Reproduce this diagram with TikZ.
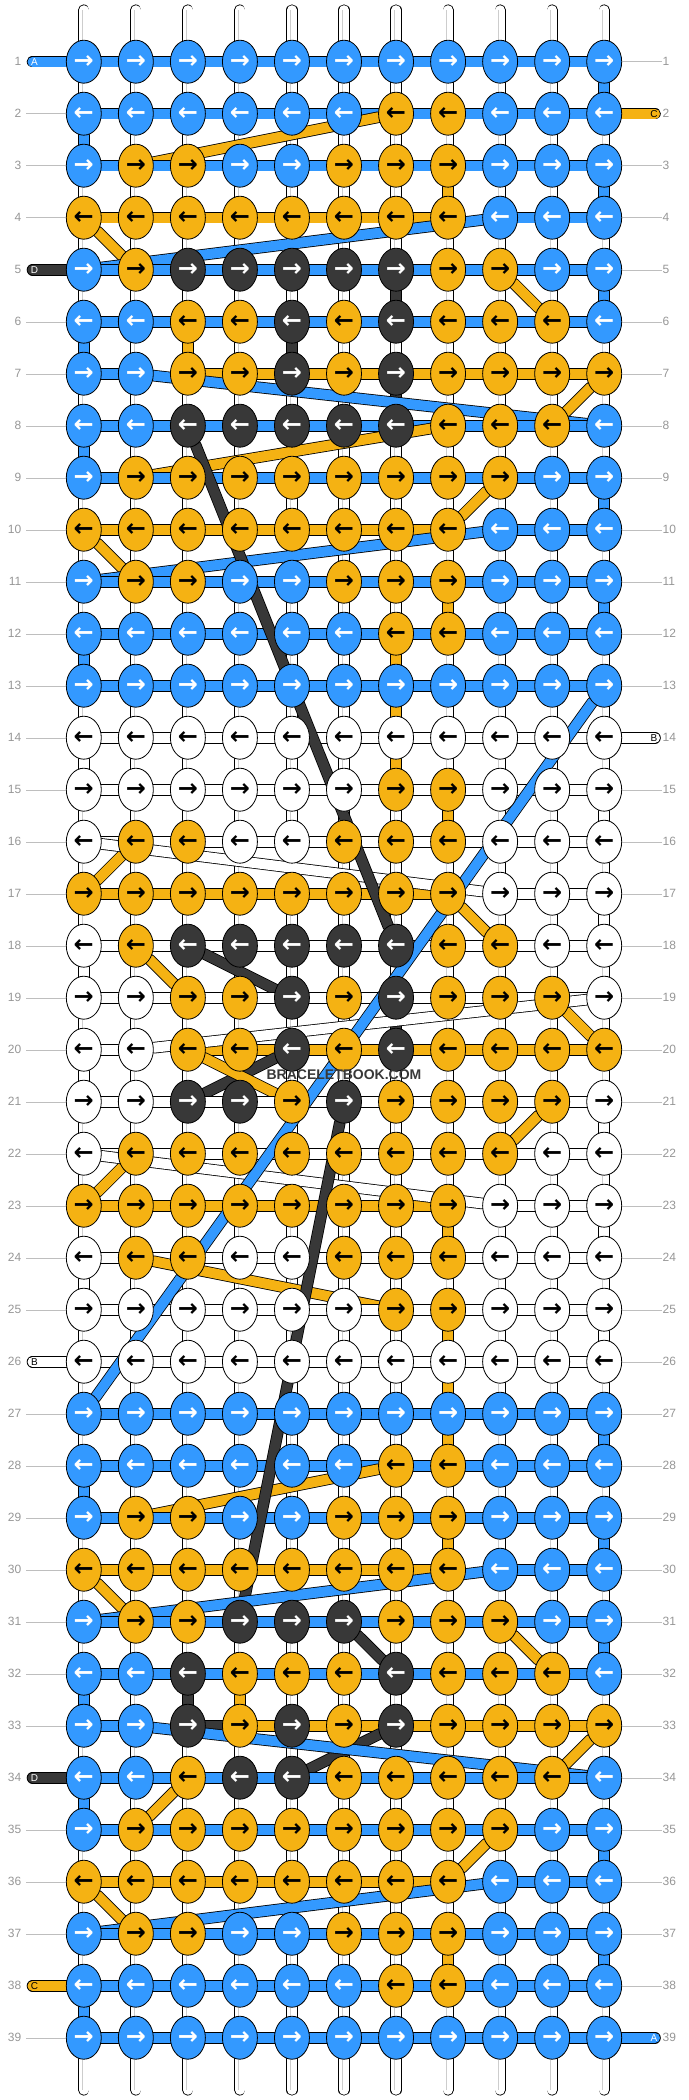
\documentclass[tikz,border=0pt]{standalone}
\usepackage{fontspec}
\setmainfont{Liberation Sans}
\newfontfamily\arrowfont{DejaVu Sans}
\usetikzlibrary{shapes.geometric}
\pgfdeclarelayer{strings}
\pgfsetlayers{strings,main}
\definecolor{colA}{RGB}{51,153,255}
\definecolor{colC}{RGB}{245,178,19}
\definecolor{colD}{RGB}{56,56,56}
\definecolor{numgray}{RGB}{150,150,150}
\definecolor{linegray}{RGB}{190,190,190}
\definecolor{warpshade}{RGB}{205,205,205}
\tikzset{
  knot/.style={ellipse, draw=black, line width=0.8pt, minimum width=35pt, minimum height=43pt,
    inner sep=0pt, font=\arrowfont\bfseries\fontsize{24}{24}\selectfont},
  kA/.style={knot, fill=colA, text=white},
  kB/.style={knot, fill=white, text=black},
  kC/.style={knot, fill=colC, text=black},
  kD/.style={knot, fill=colD, text=white},
  str/.style={draw=black, line width=0.8pt, double distance=10pt, line cap=round},
  strA/.style={str, double=colA},
  strB/.style={str, double=white},
  strC/.style={str, double=colC},
  strD/.style={str, double=colD},
  warp/.style={draw=black, line width=0.8pt, double=white, double distance=9.5pt, line cap=round},
  rownr/.style={inner sep=0pt, text=numgray, font=\fontsize{12}{12}\selectfont},
  endlab/.style={inner sep=0pt, font=\fontsize{10}{10}\selectfont},
}
% last row of each string
\def\exitA{39}\def\exitB{26}\def\exitC{38}\def\exitD{34}
\begin{document}
\begin{tikzpicture}[x=1pt, y=-1pt]
  \useasboundingbox (0,0) rectangle (688,2100);
  % knot colours, row by row
  \foreach \pat [count=\r] in {
    {A,A,A,A,A,A,A,A,A,A,A},% 1
    {A,A,A,A,A,A,C,C,A,A,A},% 2
    {A,C,C,A,A,C,C,C,A,A,A},% 3
    {C,C,C,C,C,C,C,C,A,A,A},% 4
    {A,C,D,D,D,D,D,C,C,A,A},% 5
    {A,A,C,C,D,C,D,C,C,C,A},% 6
    {A,A,C,C,D,C,D,C,C,C,C},% 7
    {A,A,D,D,D,D,D,C,C,C,A},% 8
    {A,C,C,C,C,C,C,C,C,A,A},% 9
    {C,C,C,C,C,C,C,C,A,A,A},% 10
    {A,C,C,A,A,C,C,C,A,A,A},% 11
    {A,A,A,A,A,A,C,C,A,A,A},% 12
    {A,A,A,A,A,A,A,A,A,A,A},% 13
    {B,B,B,B,B,B,B,B,B,B,B},% 14
    {B,B,B,B,B,B,C,C,B,B,B},% 15
    {B,C,C,B,B,C,C,C,B,B,B},% 16
    {C,C,C,C,C,C,C,C,B,B,B},% 17
    {B,C,D,D,D,D,D,C,C,B,B},% 18
    {B,B,C,C,D,C,D,C,C,C,B},% 19
    {B,B,C,C,D,C,D,C,C,C,C},% 20
    {B,B,D,D,C,D,C,C,C,C,B},% 21
    {B,C,C,C,C,C,C,C,C,B,B},% 22
    {C,C,C,C,C,C,C,C,B,B,B},% 23
    {B,C,C,B,B,C,C,C,B,B,B},% 24
    {B,B,B,B,B,B,C,C,B,B,B},% 25
    {B,B,B,B,B,B,B,B,B,B,B},% 26
    {A,A,A,A,A,A,A,A,A,A,A},% 27
    {A,A,A,A,A,A,C,C,A,A,A},% 28
    {A,C,C,A,A,C,C,C,A,A,A},% 29
    {C,C,C,C,C,C,C,C,A,A,A},% 30
    {A,C,C,D,D,D,C,C,C,A,A},% 31
    {A,A,D,C,C,C,D,C,C,C,A},% 32
    {A,A,D,C,D,C,D,C,C,C,C},% 33
    {A,A,C,D,D,C,C,C,C,C,A},% 34
    {A,C,C,C,C,C,C,C,C,A,A},% 35
    {C,C,C,C,C,C,C,C,A,A,A},% 36
    {A,C,C,A,A,C,C,C,A,A,A},% 37
    {A,A,A,A,A,A,C,C,A,A,A},% 38
    {A,A,A,A,A,A,A,A,A,A,A}% 39
  } {
    \foreach \k [count=\c] in \pat
      \expandafter\xdef\csname kn\r-\c\endcsname{\k};
  }
  % knots
  \foreach \r in {1,...,39} \foreach \c in {1,...,11} {
    \edef\k{\csname kn\r-\c\endcsname}
    \node[k\k] (k-\r-\c) at ({83.8+52.04*(\c-1)}, {61.7+52*(\r-1)}) {\ifodd\r\relax →\else ←\fi};
  }
  % string ends
  \coordinate (inA) at (32.5, {61.7+52*0});
  \coordinate (outA) at (655, {61.7+52*38});
  \coordinate (inC) at (655, {61.7+52*1});
  \coordinate (outC) at (32.5, {61.7+52*37});
  \coordinate (inD) at (32.5, {61.7+52*4});
  \coordinate (outD) at (32.5, {61.7+52*33});
  \coordinate (inB) at (655, {61.7+52*13});
  \coordinate (outB) at (32.5, {61.7+52*25});
  \foreach \c in {1,...,11} {
    \coordinate (top-\c) at ({83.8+52.04*(\c-1)}, 10);
    \coordinate (bot-\c) at ({83.8+52.04*(\c-1)}, 2090);
  }
  \begin{pgfonlayer}{strings}
    \foreach \c in {1,...,11} {
      \draw[warp] (top-\c) -- (bot-\c);
      \draw[warpshade, line width=1pt] ([xshift=-1.5pt]top-\c) -- ([xshift=-1.5pt]bot-\c);
    }
    \foreach \s in {A,B,C,D} \expandafter\xdef\csname last\s\endcsname{in\s};
    % row after row; in a row D lies lowest and A on top
    \foreach \r in {1,...,39} \foreach \s in {D,C,B,A} {
      \edef\want{\s}
      \foreach \i in {1,...,11} {
        \pgfmathtruncatemacro\c{isodd(\r) ? \i : 12-\i}
        \edef\cur{\csname kn\r-\c\endcsname}
        \ifx\cur\want
          \edef\from{\csname last\s\endcsname}
          \draw[str\s] (\from) -- (k-\r-\c);
          \expandafter\xdef\csname last\s\endcsname{k-\r-\c}
        \fi
      }
      \ifnum\r=\csname exit\s\endcsname\relax
        \edef\from{\csname last\s\endcsname}
        \draw[str\s] (\from) -- (out\s);
      \fi
    }
  \end{pgfonlayer}
  \node[endlab, text=white] (labA1) at ([xshift=2pt]inA) {A};
  \node[endlab, text=white] (labA2) at ([xshift=-1pt]outA) {A};
  \node[endlab, text=black] (labC1) at ([xshift=-1pt]inC) {C};
  \node[endlab, text=black] (labC2) at ([xshift=2pt]outC) {C};
  \node[endlab, text=white] (labD1) at ([xshift=2pt]inD) {D};
  \node[endlab, text=white] (labD2) at ([xshift=2pt]outD) {D};
  \node[endlab, text=black] (labB1) at ([xshift=-1pt]inB) {B};
  \node[endlab, text=black] (labB2) at ([xshift=2pt]outB) {B};
  % row numbers
  \foreach \r in {1,...,39} {
    \node[rownr, anchor=east] (ln-\r) at (21.5, {61.7+52*(\r-1)}) {\r};
    \node[rownr, anchor=west] (rn-\r) at (662.5, {61.7+52*(\r-1)}) {\r};
    \pgfmathtruncatemacro\lend{(\r==1)||(\r==5)||(\r==26)||(\r==34)||(\r==38)}
    \pgfmathtruncatemacro\rend{(\r==2)||(\r==14)||(\r==39)}
    \ifnum\lend=0 \draw[linegray, shorten <=4.5pt] (ln-\r) -- (k-\r-1); \fi
    \ifnum\rend=0 \draw[linegray, shorten >=1pt] (k-\r-11) -- (rn-\r); \fi
  }
  \node[font=\bfseries\fontsize{14}{14}\selectfont, text=colD] (mark) at (344, 1075) {BRACELETBOOK.COM};
\end{tikzpicture}
\end{document}
